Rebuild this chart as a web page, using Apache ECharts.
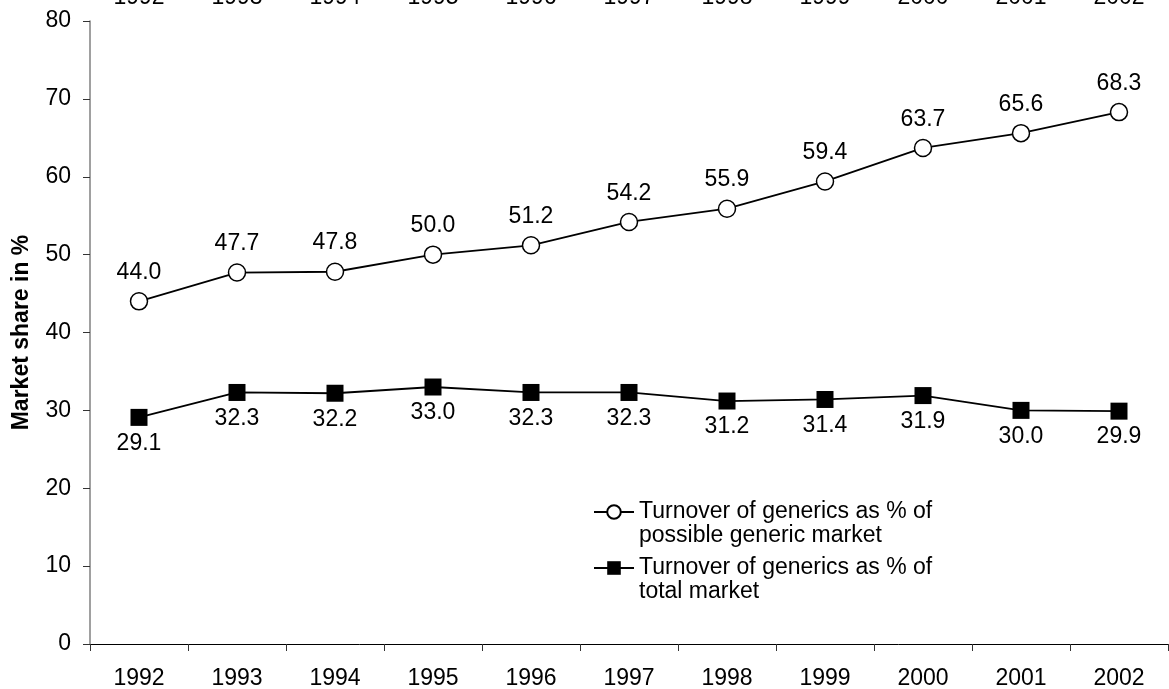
<!DOCTYPE html>
<html>
<head>
<meta charset="utf-8">
<script src="https://cdn.jsdelivr.net/npm/echarts@6/dist/echarts.min.js"></script>
<style>
html,body{margin:0;padding:0;background:#fff;}
#chart{width:1169px;height:689px;}
</style>
</head>
<body>
<div id="chart"></div>
<script>
var years = ['1992','1993','1994','1995','1996','1997','1998','1999','2000','2001','2002'];
var possibleMarket = [44.0, 47.7, 47.8, 50.0, 51.2, 54.2, 55.9, 59.4, 63.7, 65.6, 68.3];
var totalMarket = [29.1, 32.3, 32.2, 33.0, 32.3, 32.3, 31.2, 31.4, 31.9, 30.0, 29.9];
var seriesNames = ['Turnover of generics as % of\npossible generic market', 'Turnover of generics as % of\ntotal market'];
var yTitle = 'Market share in %';

var FONT = '"Liberation Sans", Arial, Helvetica, sans-serif';
var FS = 23;
var chart = echarts.init(document.getElementById('chart'));
var legendText = {fontFamily: FONT, fontSize: FS, color: '#000', lineHeight: 24};
function legendFmt(name) { return '\n' + name; }
chart.setOption({
  animation: false,
  backgroundColor: '#fff',
  textStyle: {fontFamily: FONT},
  grid: {left: 90, right: 1, top: 21, bottom: 45, containLabel: false, outerBoundsMode: 'none'},
  legend: [
    {data: [seriesNames[0]], formatter: legendFmt, orient: 'vertical', left: 593, top: 476, padding: 0, itemWidth: 40, itemHeight: 17, itemGap: 0, textStyle: legendText, selectedMode: false},
    {data: [seriesNames[1]], formatter: legendFmt, orient: 'vertical', left: 593, top: 532, padding: 0, itemWidth: 40, itemHeight: 17, itemGap: 0, textStyle: legendText, selectedMode: false}
  ],
  xAxis: [
    {
      type: 'category', data: years, position: 'bottom', boundaryGap: true,
      axisLine: {show: true, lineStyle: {color: '#000', width: 1}},
      axisTick: {show: true, inside: false, length: 7, alignWithLabel: false, lineStyle: {color: '#333'}},
      axisLabel: {fontFamily: FONT, fontSize: FS, color: '#000', margin: 23, interval: 0},
      splitLine: {show: false}
    },
    {
      type: 'category', data: years, position: 'top', boundaryGap: true,
      axisLine: {show: false}, axisTick: {show: false},
      axisLabel: {fontFamily: FONT, fontSize: FS, color: '#000', margin: 12, interval: 0},
      splitLine: {show: false}
    }
  ],
  yAxis: {
    type: 'value', min: 0, max: 80, interval: 10,
    name: yTitle, nameLocation: 'middle', nameGap: 57,
    nameTextStyle: {fontFamily: FONT, fontSize: 23, fontWeight: 'bold', color: '#000'},
    axisLine: {show: true, lineStyle: {color: '#808080', width: 1.5}},
    axisTick: {show: true, inside: false, length: 7, lineStyle: {color: '#333'}},
    axisLabel: {fontFamily: FONT, fontSize: FS, color: '#000', margin: 19},
    splitLine: {show: false}
  },
  series: [
    {
      name: seriesNames[0], type: 'line', data: possibleMarket, xAxisIndex: 0,
      symbol: 'circle', symbolSize: 17, showAllSymbol: true,
      lineStyle: {color: '#000', width: 1.8},
      itemStyle: {color: '#fff', borderColor: '#000', borderWidth: 1.5},
      label: {show: true, position: 'top', distance: 8, fontFamily: FONT, fontSize: FS, color: '#000',
        formatter: function (p) { return p.value.toFixed(1); }}
    },
    {
      name: seriesNames[1], type: 'line', data: totalMarket, xAxisIndex: 0,
      symbol: 'rect', symbolSize: 17, showAllSymbol: true,
      lineStyle: {color: '#000', width: 1.8},
      itemStyle: {color: '#000', borderColor: '#000', borderWidth: 0},
      label: {show: true, position: 'bottom', distance: 6, fontFamily: FONT, fontSize: FS, color: '#000',
        formatter: function (p) { return p.value.toFixed(1); }}
    }
  ]
});
</script>
</body>
</html>
